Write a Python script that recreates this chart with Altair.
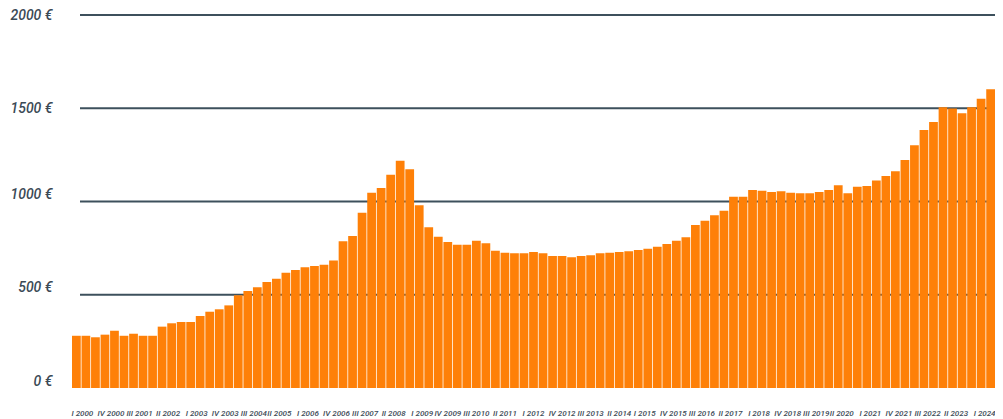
import json
import altair as alt
import pandas as pd

# ---- data -------------------------------------------------------------
QUARTERS = ["I", "II", "III", "IV"]
YEARS = list(range(2000, 2025))
PERIODS = [f"{q} {y}" for y in YEARS for q in QUARTERS][:97]  # I 2000 .. I 2024

VALUES = [
    280, 280, 272, 286, 307, 280, 291, 280, 280, 329,
    347, 354, 354, 386, 409, 422, 443, 497, 520, 540,
    568, 586, 618, 633, 647, 654, 661, 683, 787, 815,
    940, 1047, 1072, 1144, 1219, 1173, 980, 862, 811, 783,
    768, 768, 790, 776, 736, 725, 722, 722, 729, 722,
    708, 708, 701, 708, 712, 722, 725, 729, 733, 740,
    747, 758, 772, 790, 808, 874, 897, 926, 951, 1026,
    1026, 1062, 1058, 1051, 1055, 1047, 1044, 1044, 1051, 1062,
    1087, 1044, 1079, 1083, 1112, 1137, 1162, 1223, 1301, 1383,
    1426, 1505, 1498, 1473, 1505, 1551, 1602,
]

X_TICKS = PERIODS[::3]
Y_TICKS = [0, 500, 1000, 1500, 2000]
GRID_LINES = [500, 1000, 1500, 2000]

bars_df = pd.DataFrame({"period": PERIODS, "value": VALUES})
grid_df = pd.DataFrame({"level": GRID_LINES})

# ---- style ------------------------------------------------------------
FONT = "Roboto"
TEXT_COLOR = "#3b4a56"
GRID_COLOR = "#3d505c"
BAR_COLOR = "#fe8008"
W, H = 923, 373

# label nudges (the reference's labels are spread slightly differently from the bars)
LABEL_GROUPS = [(X_TICKS[0:7], 6), (X_TICKS[7:13], 3), (X_TICKS[20:27], -3), (X_TICKS[27:], -6)]
x_label_offset = {
    "condition": [
        {"test": f"indexof({json.dumps(g)}, datum.value) >= 0", "value": v}
        for g, v in LABEL_GROUPS
    ],
    "value": 0,
}

y_scale = alt.Scale(domain=[0, 2000], nice=False, zero=True)
y_axis = alt.Axis(
    values=Y_TICKS,
    labelExpr="datum.value + ' €'",
    title=None,
    grid=False,
    ticks=False,
    domain=False,
    labelFont=FONT,
    labelFontSize=14,
    labelFontStyle="italic",
    labelFontWeight=500,
    labelColor=TEXT_COLOR,
    labelPadding=20,
    labelOffset={"condition": {"test": "datum.value <= 1000", "value": -7}, "value": 0},
)

grid = alt.Chart(grid_df).mark_rule(color=GRID_COLOR, strokeWidth=2.2).encode(
    y=alt.Y("level:Q", scale=y_scale, axis=y_axis),
    x=alt.value(8),
    x2=alt.value(W),
)

bars = alt.Chart(bars_df).mark_bar(color=BAR_COLOR).encode(
    x=alt.X(
        "period:N",
        sort=PERIODS,
        scale=alt.Scale(paddingInner=0.08, paddingOuter=0),
        axis=alt.Axis(
            values=X_TICKS,
            title=None,
            labelAngle=0,
            ticks=False,
            domain=False,
            labelFont=FONT,
            labelFontSize=8,
            labelFontStyle="italic",
            labelFontWeight=500,
            labelColor=TEXT_COLOR,
            labelPadding=21,
            labelOffset=x_label_offset,
        ),
    ),
    y=alt.Y("value:Q", scale=y_scale, axis=y_axis),
)

chart = (
    alt.layer(grid, bars)
    .properties(
        width=W,
        height=H,
        autosize=alt.AutoSizeParams(type="none"),
        padding={"left": 64, "top": 7, "right": 0, "bottom": 31},
        background="white",
    )
    .configure_view(stroke=None)
)

chart.save("out.html", embed_options={"renderer": "svg", "actions": False})
